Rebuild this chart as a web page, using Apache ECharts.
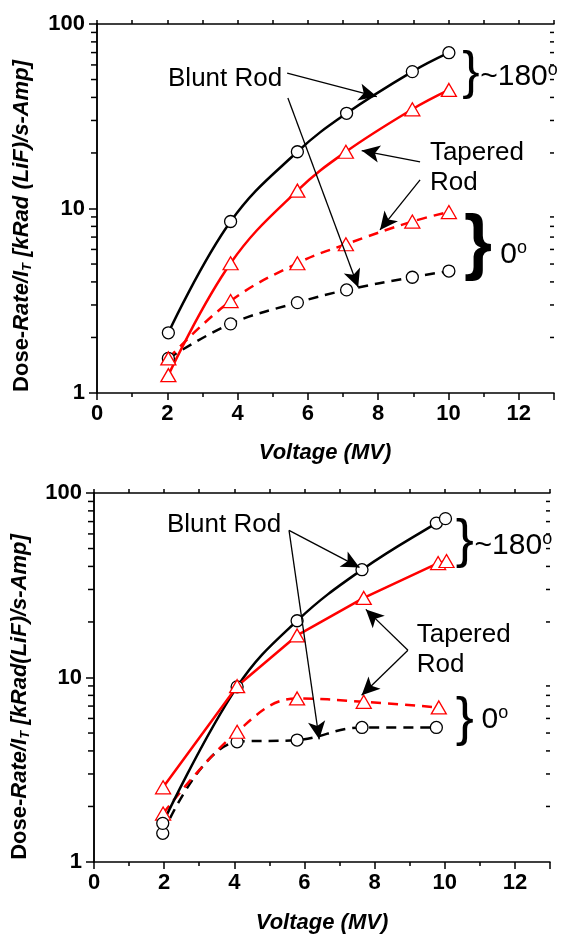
<!DOCTYPE html>
<html>
<head>
<meta charset="utf-8">
<script src="https://cdn.jsdelivr.net/npm/echarts@6/dist/echarts.min.js"></script>
<style>
  html, body { margin: 0; padding: 0; background: #fff; }
  #main { width: 564px; height: 936px; }
</style>
</head>
<body>
<div id="main"></div>
<script>
// ---- data: [voltage (MV), dose-rate/I_T] ----
// upper panel
var topBlunt180 = [[2.03, 2.12], [3.80, 8.5], [5.70, 20.3], [7.10, 32.8], [8.97, 55.2], [10.01, 69.9]];
var topTaper180 = [[2.03, 1.25], [3.80, 5.05], [5.70, 12.5], [7.08, 20.3], [8.97, 34.5], [10.01, 43.9]];
var topTaper0   = [[2.03, 1.54], [3.80, 3.15], [5.70, 5.05], [7.08, 6.4], [8.97, 8.5], [10.01, 9.57]];
var topBlunt0   = [[2.03, 1.54], [3.80, 2.37], [5.70, 3.09], [7.10, 3.62], [8.97, 4.24], [10.01, 4.58]];
// lower panel
var botBlunt180 = [[1.96, 1.62], [4.08, 8.9], [5.79, 20.3], [7.64, 38.4], [9.76, 68.7], [10.02, 72.6]];
var botTaper180 = [[1.97, 2.54], [4.08, 8.97], [5.79, 16.9], [7.69, 27.0], [9.81, 41.7], [10.05, 42.8]];
var botTaper0   = [[1.97, 1.83], [4.08, 5.08], [5.79, 7.7], [7.69, 7.38], [9.83, 6.88]];
var botBlunt0   = [[1.96, 1.43], [4.08, 4.48], [5.79, 4.58], [7.64, 5.36], [9.76, 5.36]];

var xTicks = [0, 2, 4, 6, 8, 10, 12];
var yMinorTicks = [2, 3, 4, 5, 6, 7, 8, 9, 20, 30, 40, 50, 60, 70, 80, 90];

// annotation arrows: [from, to] in data coords
var topArrows = [
  [[5.41, 54.2], [7.96, 40.4]],
  [[5.43, 39.7], [7.43, 3.74]],
  [[9.19, 17.9], [7.53, 20.6]],
  [[9.19, 14.3], [8.05, 7.65]]
];
var botArrows = [
  [[5.56, 62.7], [7.57, 39.5]],
  [[5.56, 62.7], [6.42, 4.62]],
  [[8.95, 14.06], [7.75, 23.4]],
  [[8.95, 14.06], [7.63, 8.02]]
];

var FONT = 'Liberation Sans, Arial, sans-serif';
var RED = '#ff0000';

var chart = echarts.init(document.getElementById('main'));

function xAxes(g) {
  return [{
    type: 'value', gridIndex: g, min: 0, max: 13, interval: 2, position: 'bottom',
    axisLine: { lineStyle: { color: '#000', width: 1.5 } },
    axisTick: { length: 7, lineStyle: { color: '#000', width: 1.5 } },
    minorTick: { show: true, splitNumber: 2, length: 4, lineStyle: { color: '#000', width: 1.5 } },
    axisLabel: { color: '#000', fontFamily: FONT, fontSize: 22, fontWeight: 'bold', margin: 10,
      customValues: xTicks },
    splitLine: { show: false }
  }, {
    type: 'value', gridIndex: g, min: 0, max: 13, interval: 1, position: 'top',
    axisLine: { lineStyle: { color: '#000', width: 1.5 } },
    axisTick: { length: 4, lineStyle: { color: '#000', width: 1.5 } },
    axisLabel: { show: false },
    splitLine: { show: false }
  }];
}

function yAxes(g) {
  var base = { type: 'log', gridIndex: g, min: 1, max: 100, logBase: 10, splitLine: { show: false } };
  return [
    Object.assign({}, base, {
      position: 'left',
      axisLine: { lineStyle: { color: '#000', width: 1.5 } },
      axisTick: { length: 8, lineStyle: { color: '#000', width: 1.5 } },
      axisLabel: { color: '#000', fontFamily: FONT, fontSize: 22, fontWeight: 'bold', margin: 12 }
    }),
    Object.assign({}, base, {
      position: 'right',
      axisLine: { show: true, lineStyle: { color: '#000', width: 1.5 } },
      axisTick: { inside: true, length: 7, lineStyle: { color: '#000', width: 1.5 } },
      axisLabel: { show: false }
    })
  ];
}

function curve(g, data, color, dashed, symbol, smooth) {
  return {
    type: 'line', xAxisIndex: g * 2, yAxisIndex: g * 2, data: data,
    smooth: smooth, symbol: symbol, symbolSize: symbol === 'circle' ? 12 : [15, 13],
    showAllSymbol: true,
    lineStyle: { color: color, width: 2.5, type: dashed ? [10, 7] : 'solid' },
    itemStyle: { color: '#fff', borderColor: color, borderWidth: 1.3 },
    emphasis: { disabled: true }
  };
}

function arrows(g, list) {
  return {
    type: 'line', xAxisIndex: g * 2, yAxisIndex: g * 2, data: [], silent: true,
    markLine: {
      silent: true, animation: false,
      symbol: ['none', 'arrow'], symbolSize: [13, 18],
      label: { show: false },
      lineStyle: { color: '#000', width: 1.3, type: 'solid' },
      emphasis: { disabled: true },
      data: list.map(function (a) { return [{ coord: a[0] }, { coord: a[1] }]; })
    }
  };
}

// minor ticks of the log axes (2..9 per decade) as a custom series on the axis scale
function minorTicks(g) {
  return {
    type: 'custom', xAxisIndex: g * 2, yAxisIndex: g * 2, silent: true, clip: false, z: 10,
    data: yMinorTicks.map(function (v) { return [0, v]; }),
    renderItem: function (params, api) {
      var l = api.coord([0, api.value(1)]);
      var r = api.coord([13, api.value(1)]);
      return {
        type: 'group',
        children: [
          { type: 'rect', shape: { x: l[0] - 6, y: l[1] - 0.75, width: 6, height: 1.5 },
            style: { fill: '#000' } },
          { type: 'line', shape: { x1: r[0] - 4, y1: r[1], x2: r[0], y2: r[1] },
            style: { stroke: '#000', lineWidth: 1.5 } }
        ]
      };
    }
  };
}

chart.setOption({
  animation: false,
  backgroundColor: '#fff',
  grid: [
    { left: 97, top: 24, width: 457, height: 369 },
    { left: 94, top: 493, width: 456, height: 369 }
  ],
  xAxis: xAxes(0).concat(xAxes(1)),
  yAxis: yAxes(0).concat(yAxes(1)),
  series: [
    minorTicks(0),
    curve(0, topBlunt0, '#000', true, 'circle', 0.4),
    curve(0, topTaper0, RED, true, 'triangle', 0.4),
    curve(0, topBlunt180, '#000', false, 'circle', 0.4),
    curve(0, topTaper180, RED, false, 'triangle', 0.4),
    arrows(0, topArrows),
    minorTicks(1),
    curve(1, botBlunt0, '#000', true, 'circle', 0.4),
    curve(1, botTaper0, RED, true, 'triangle', 0.4),
    curve(1, botBlunt180, '#000', false, 'circle', 0.4),
    curve(1, botTaper180, RED, false, 'triangle', false),
    arrows(1, botArrows)
  ]
});

function px(g, p) { return chart.convertToPixel({ xAxisIndex: g * 2, yAxisIndex: g * 2 }, p); }

function label(g, p, text, size) {
  var q = px(g, p);
  return {
    type: 'text', x: q[0], y: q[1], silent: true,
    style: { text: text, fill: '#000', font: size + 'px ' + FONT, align: 'left', verticalAlign: 'middle', lineHeight: 30 }
  };
}

function brace(g, p, size, weight) {
  var q = px(g, p);
  return {
    type: 'text', x: q[0], y: q[1], silent: true,
    style: { text: '}', fill: '#000', font: weight + ' ' + size + 'px ' + FONT, align: 'center', verticalAlign: 'middle' }
  };
}

function degText(g, p, num, size) {
  var q = px(g, p);
  return {
    type: 'text', x: q[0], y: q[1], silent: true,
    style: {
      text: '{n|' + num + '}{s|o}', align: 'left', verticalAlign: 'middle',
      rich: {
        n: { fontSize: size, fontFamily: FONT, fill: '#000', lineHeight: size },
        s: { fontSize: size * 0.6, fontFamily: FONT, fill: '#000', padding: [0, 0, size * 0.45, 0] }
      }
    }
  };
}

function yTitle(x, y, mid) {
  return {
    type: 'text', x: x, y: y, rotation: Math.PI / 2, silent: true,
    style: {
      text: '{n|Dose-}{i|Rate/I}{s|T}{i|' + mid + '}',
      align: 'center', verticalAlign: 'middle',
      rich: {
        n: { fontSize: 22, fontWeight: 'bold', fontFamily: FONT, fill: '#000' },
        i: { fontSize: 22, fontWeight: 'bold', fontStyle: 'italic', fontFamily: FONT, fill: '#000' },
        s: { fontSize: 13, fontWeight: 'bold', fontStyle: 'italic', fontFamily: FONT, fill: '#000', padding: [10, 0, 0, 0] }
      }
    }
  };
}

function xTitle(x, y) {
  return {
    type: 'text', x: x, y: y, silent: true,
    style: { text: 'Voltage (MV)', fill: '#000', font: 'italic bold 22px ' + FONT, align: 'center', verticalAlign: 'middle' }
  };
}

chart.setOption({
  graphic: [
    yTitle(22, 226, ' [kRad (LiF)/s-Amp]'),
    yTitle(20, 697, ' [kRad(LiF)/s-Amp]'),
    xTitle(325, 453),
    xTitle(322, 923),
    // upper panel
    label(0, [2.02, 50.3], 'Blunt Rod', 26),
    label(0, [9.47, 16.6], 'Tapered\nRod', 26),
    brace(0, [10.64, 53.6], 52, 'normal'),
    degText(0, [10.9, 51.6], '~180', 30),
    brace(0, [10.84, 6.26], 72, 'bold'),
    degText(0, [11.47, 5.6], '0', 30),
    // lower panel
    label(1, [2.08, 67.6], 'Blunt Rod', 26),
    label(1, [9.2, 14.06], 'Tapered\nRod', 26),
    brace(1, [10.57, 54.0], 54, 'normal'),
    degText(1, [10.85, 52.0], '~180', 30),
    brace(1, [10.57, 5.87], 54, 'normal'),
    degText(1, [11.05, 5.87], '0', 30)
  ]
});
</script>
</body>
</html>
